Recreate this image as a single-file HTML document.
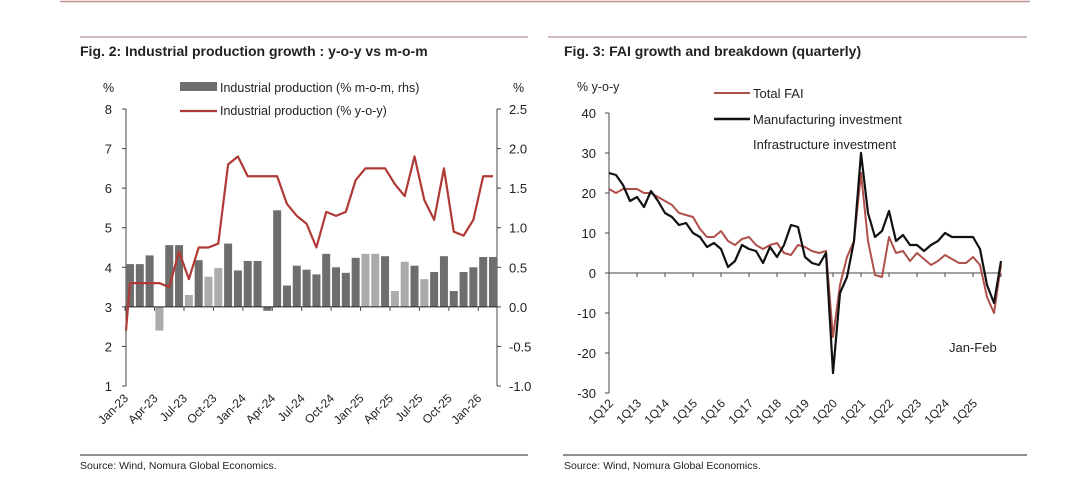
<!DOCTYPE html>
<html><head><meta charset="utf-8"><style>
body{margin:0;background:#fff;}
svg text{font-family:"Liberation Sans",Arial,sans-serif;fill:#222;}
</style></head><body>
<svg id="s" width="1080" height="491" viewBox="0 0 1080 491" xmlns="http://www.w3.org/2000/svg">
<line x1="60" y1="1.5" x2="1030" y2="1.5" stroke="#c09090" stroke-width="1.5"/>
<line x1="80" y1="37" x2="528" y2="37" stroke="#b89090" stroke-width="1.2"/>
<line x1="548" y1="37" x2="1027" y2="37" stroke="#b89090" stroke-width="1.2"/>
<text x="80" y="56" font-size="14" font-weight="bold">Fig. 2: Industrial production growth : y-o-y vs m-o-m</text>
<text x="564" y="56" font-size="14" font-weight="bold">Fig. 3: FAI growth and breakdown (quarterly)</text>
<line x1="80" y1="455" x2="528" y2="455" stroke="#222" stroke-width="1"/>
<line x1="563" y1="455" x2="1027" y2="455" stroke="#222" stroke-width="1"/>
<text x="80" y="469" font-size="10.5">Source: Wind, Nomura Global Economics.</text>
<text x="564" y="469" font-size="10.5">Source: Wind, Nomura Global Economics.</text>
<g id="c1"></g>
<g id="c2"></g>
</svg>
<script>
// Fig 2 data
const months = ["Jan-23","Feb-23","Mar-23","Apr-23","May-23","Jun-23","Jul-23","Aug-23","Sep-23","Oct-23","Nov-23","Dec-23","Jan-24","Feb-24","Mar-24","Apr-24","May-24","Jun-24","Jul-24","Aug-24","Sep-24","Oct-24","Nov-24","Dec-24","Jan-25","Feb-25","Mar-25","Apr-25","May-25","Jun-25","Jul-25","Aug-25","Sep-25","Oct-25","Nov-25","Dec-25","Jan-26","Feb-26"];
const yoyValues = [3.6,3.6,3.6,3.6,3.5,4.4,3.7,4.5,4.5,4.6,6.6,6.8,6.3,6.3,6.3,6.3,5.6,5.3,5.1,4.5,5.4,5.3,5.4,6.2,6.5,6.5,6.5,6.1,5.8,6.8,5.7,5.2,6.5,4.9,4.8,5.2,6.3,6.3];
const momValues = [0.54,0.54,0.65,-0.3,0.78,0.78,0.15,0.59,0.38,0.49,0.8,0.46,0.58,0.58,-0.05,1.22,0.27,0.52,0.47,0.41,0.67,0.5,0.43,0.62,0.67,0.67,0.64,0.2,0.57,0.52,0.35,0.44,0.64,0.2,0.44,0.5,0.63,0.63];
const momLight = [3,6,8,9,24,25,27,28,30];
const leftTicks = [1,2,3,4,5,6,7,8];
const rightTicks = ["-1.0","-0.5","0.0","0.5","1.0","1.5","2.0","2.5"];
const monthLabels = ["Jan-23","Apr-23","Jul-23","Oct-23","Jan-24","Apr-24","Jul-24","Oct-24","Jan-25","Apr-25","Jul-25","Oct-25","Jan-26"];
// Fig 3 data
const quarters = [];
for (let y=12;y<=26;y++){for(let q=1;q<=4;q++){ if(y===26&&q>1)break; quarters.push(q+"Q"+y);} }
const faiTotal = [21,20,21,21,21,20,20,19,18,17,15,14.5,14,11,9,9,10.5,8,7,8.5,9,7,6,7,7.5,5,4.5,7,6.5,5.5,5,5.5,-16,-3,4,8,25,8,-0.5,-1,9,5,5.5,3,5,3.5,2,3,4.5,3.5,2.5,2.5,4,2,-6,-10,2];
const faiManu = [25,24.5,22,18,19,16.5,20.5,18,15,14,12,12.5,10,9,6.5,7.5,6,1.5,3,7,6,5.5,2.5,6.5,4,7,12,11.5,4,2.5,2,5,-25,-5,-1,8,30,15,9,10.5,15.5,8,9.5,7,7,5.5,7,8,10,9,9,9,9,6,-3,-7.5,3];
const fig3Ticks = [-30,-20,-10,0,10,20,30,40];
const qLabels = ["1Q12","1Q13","1Q14","1Q15","1Q16","1Q17","1Q18","1Q19","1Q20","1Q21","1Q22","1Q23","1Q24","1Q25"];

const NS="http://www.w3.org/2000/svg";
function mk(parent,tag,attrs,text){const e=document.createElementNS(NS,tag);for(const k in attrs)e.setAttribute(k,attrs[k]);if(text!==undefined)e.textContent=text;parent.appendChild(e);return e;}

// ---------- Fig 2 ----------
const c1=document.getElementById('c1');
const L=126,R=497,Y8=109,Y1=386;
const yL=v=>Y8+(8-v)*(Y1-Y8)/7;
const yR=v=>yL(3+v*2);
const xM=i=>130+i*(493-130)/(months.length-1);
const bw=8;
mk(c1,'line',{x1:L,y1:Y8,x2:L,y2:Y1,stroke:'#444','stroke-width':1});
mk(c1,'line',{x1:R,y1:Y8,x2:R,y2:Y1,stroke:'#444','stroke-width':1});
leftTicks.forEach(v=>{
  const t=mk(c1,'text',{x:L-14,y:yL(v)+5,'font-size':13,'text-anchor':'end'},String(v));
  
  
  mk(c1,'line',{x1:L-4,y1:yL(v),x2:L,y2:yL(v),stroke:'#444'});
});
rightTicks.forEach(s=>{
  const v=parseFloat(s);
  const t=mk(c1,'text',{x:R+12,y:yR(v)+5,'font-size':13},s);
  
  
  mk(c1,'line',{x1:R,y1:yR(v),x2:R+4,y2:yR(v),stroke:'#444'});
});
let t=mk(c1,'text',{x:103,y:92,'font-size':12.5},'%');


t=mk(c1,'text',{x:513,y:92,'font-size':12.5},'%');


momValues.forEach((v,i)=>{
  const y0=yR(0),y1=yR(v);
  const b=mk(c1,'rect',{x:xM(i)-bw/2,y:Math.min(y0,y1),width:bw,height:Math.abs(y1-y0),fill:momLight.includes(i)?'#ababab':'#6e6e6e'});
  
  
});
mk(c1,'line',{x1:L,y1:yR(0),x2:R,y2:yR(0),stroke:'#222','stroke-width':1});
for(let i=0;i<months.length;i+=3){mk(c1,'line',{x1:xM(i)-4.9,y1:yR(0),x2:xM(i)-4.9,y2:yR(0)+4,stroke:'#444'});}
const pts1=yoyValues.map((v,i)=>xM(i)+','+yL(v)).join(' ');
const l1=mk(c1,'polyline',{points:'126,'+yL(2.4)+' '+pts1,fill:'none',stroke:'#b03a36','stroke-width':2.2,'stroke-linejoin':'round'});


monthLabels.forEach(lbl=>{
  const i=months.indexOf(lbl);
  const x=xM(i)-1,y=yR(-1)+13;
  const tt=mk(c1,'text',{x:x,y:y,'font-size':12,'text-anchor':'end',transform:`rotate(-45 ${x} ${y})`},lbl);
  
  
});
// legend
let lg=mk(c1,'rect',{x:180,y:82,width:37,height:9,fill:'#6e6e6e'});


t=mk(c1,'text',{x:220,y:92,'font-size':12.5},'Industrial production (% m-o-m, rhs)');


lg=mk(c1,'line',{x1:180,y1:111,x2:217,y2:111,stroke:'#b03a36','stroke-width':2.2});


t=mk(c1,'text',{x:220,y:115,'font-size':12.5},'Industrial production (% y-o-y)');



// ---------- Fig 3 ----------
const c2=document.getElementById('c2');
const AX=609,Y40=113,Ym30=393;
const yF=v=>Y40+(40-v)*(Ym30-Y40)/70;
const xQ=i=>AX+i*7;
mk(c2,'line',{x1:AX,y1:Y40,x2:AX,y2:Ym30,stroke:'#444'});
fig3Ticks.forEach(v=>{
  const tt=mk(c2,'text',{x:AX-13,y:yF(v)+5,'font-size':13,'text-anchor':'end'},String(v));
  
  
  mk(c2,'line',{x1:AX-4,y1:yF(v),x2:AX,y2:yF(v),stroke:'#444'});
});
mk(c2,'line',{x1:AX,y1:yF(0),x2:xQ(quarters.length-1),y2:yF(0),stroke:'#444'});
for(let i=4;i<quarters.length;i+=4){mk(c2,'line',{x1:xQ(i),y1:yF(0),x2:xQ(i),y2:yF(0)+4,stroke:'#444'});}
t=mk(c2,'text',{x:577,y:91,'font-size':12.5},'% y-o-y');


const l2=mk(c2,'polyline',{points:faiTotal.map((v,i)=>xQ(i)+','+yF(v)).join(' '),fill:'none',stroke:'#b0504a','stroke-width':2,'stroke-linejoin':'round'});


const l3=mk(c2,'polyline',{points:faiManu.map((v,i)=>xQ(i)+','+yF(v)).join(' '),fill:'none',stroke:'#111','stroke-width':2.2,'stroke-linejoin':'round'});


qLabels.forEach(lbl=>{
  const i=quarters.indexOf(lbl);
  const x=xQ(i)+5,y=yF(-30)+11;
  const tt=mk(c2,'text',{x:x,y:y,'font-size':12,'text-anchor':'end',transform:`rotate(-45 ${x} ${y})`},lbl);
  
  
});
lg=mk(c2,'line',{x1:714,y1:93,x2:750,y2:93,stroke:'#b0504a','stroke-width':2});


t=mk(c2,'text',{x:753,y:98,'font-size':13},'Total FAI');


lg=mk(c2,'line',{x1:714,y1:119,x2:750,y2:119,stroke:'#111','stroke-width':2.4});


t=mk(c2,'text',{x:753,y:124,'font-size':13},'Manufacturing investment');


t=mk(c2,'text',{x:753,y:149,'font-size':13},'Infrastructure investment');


t=mk(c2,'text',{x:949,y:352,'font-size':13},'Jan-Feb');


</script>
</body></html>
